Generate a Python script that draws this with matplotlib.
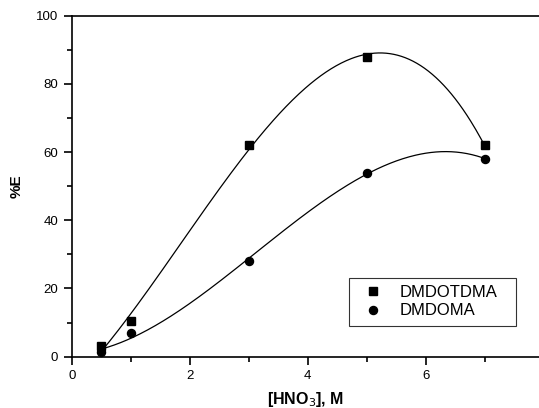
import numpy as np
import matplotlib
matplotlib.use("Agg")
import matplotlib.pyplot as plt
from matplotlib.ticker import MultipleLocator

hno3 = [0.5, 1, 3, 5, 7]
dmdotdma = [3.0, 10.5, 62.0, 88.0, 62.0]
dmdoma = [1.3, 6.8, 28.0, 54.0, 58.0]
labels = ["DMDOTDMA", "DMDOMA"]

plt.rcParams['font.family'] = ['Liberation Sans', 'DejaVu Sans']

fig = plt.figure(figsize=(5.39, 4.08), dpi=100)
ax = fig.add_axes([0.1336, 0.126, 1.0 - 0.1336, 0.9615 - 0.126])

xs = np.linspace(min(hno3), max(hno3), 300)
for ys, mk, lab in [(dmdotdma, 's', labels[0]), (dmdoma, 'o', labels[1])]:
    c = np.polyfit(hno3, ys, 3)
    ax.plot(xs, np.polyval(c, xs), color='black', lw=0.9)
    ax.plot(hno3, ys, linestyle='none', marker=mk, color='black',
            markersize=5.2 if mk == 's' else 5.8, label=lab)

ax.set_xlim(0, 7.92)
ax.set_ylim(0, 100)
ax.xaxis.set_major_locator(MultipleLocator(2))
ax.xaxis.set_minor_locator(MultipleLocator(1))
ax.yaxis.set_major_locator(MultipleLocator(20))
ax.yaxis.set_minor_locator(MultipleLocator(10))
ax.tick_params(which='major', direction='out', length=6, width=1.2, labelsize=9.5,
               colors='black', pad=4)
ax.tick_params(which='minor', direction='out', length=3.5, width=1.2)
ax.spines['right'].set_visible(False)
for s in ['left', 'bottom', 'top']:
    ax.spines[s].set_linewidth(1.2)

ax.set_xlabel("[HNO$_3$], M", fontsize=11.5, fontweight='bold')
ax.xaxis.set_label_coords(0.5, -0.098)
ax.set_ylabel("%E", fontsize=11, fontweight='bold')
ax.yaxis.set_label_coords(-0.103, 0.5)

leg = ax.legend(loc='lower left', bbox_to_anchor=(0.593, 0.09, 0.358, 0.144), mode='expand',
                borderaxespad=0, frameon=True, fancybox=False, edgecolor='black', fontsize=12,
                handlelength=2.0, handletextpad=0.6, borderpad=0.45, labelspacing=0.2,
                markerscale=1.0)
leg.get_frame().set_linewidth(0.8)

fig.savefig("out.png", dpi=100)
